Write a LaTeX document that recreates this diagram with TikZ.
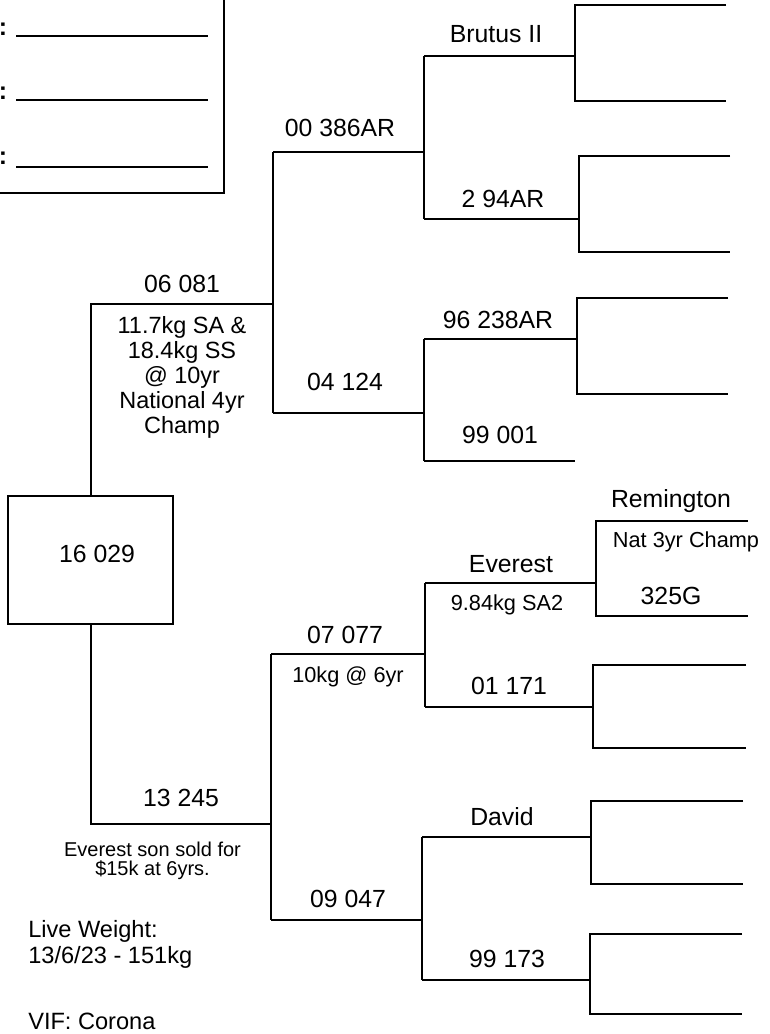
\documentclass[tikz,border=0pt]{standalone}
\usepackage{fontspec}
\setmainfont{Liberation Sans}
\newcommand\fmain{\fontsize{18.6}{20}\selectfont}
\newcommand\fnoteA{\fontsize{17.6}{19}\selectfont}
\newcommand\fnoteB{\fontsize{16.3}{18}\selectfont}
\newcommand\fnoteC{\fontsize{15}{16}\selectfont}
\newcommand\flive{\fontsize{17.7}{19}\selectfont}
\begin{document}
\begin{tikzpicture}[x=0.75pt,y=-0.75pt,
  lbl/.style={font=\fmain, inner sep=0pt, anchor=base},
  noteA/.style={font=\fnoteA, inner sep=0pt, anchor=base},
  noteB/.style={font=\fnoteB, inner sep=0pt, anchor=base},
  noteC/.style={font=\fnoteC, inner sep=0pt, anchor=base},
  live/.style={font=\flive, inner sep=0pt, anchor=base west},
  colon/.style={font=\fmain\bfseries, inner sep=0pt, anchor=base west},
  tree/.style={line width=1.2pt},
  fill line/.style={line width=0.8pt}]
\useasboundingbox (0,0) rectangle (770,1034);

% top-left form box
\draw[line width=2.2pt] (-20,-20) rectangle (224,193);
\node[colon] (c1) at (-1.5,36) {:};
\node[colon] (c2) at (-1.5,100) {:};
\node[colon] (c3) at (-1.5,165) {:};
\coordinate (f1a) at (16,36);  \coordinate (f1b) at (208,36);
\coordinate (f2a) at (16,100); \coordinate (f2b) at (208,100);
\coordinate (f3a) at (16,167); \coordinate (f3b) at (208,167);
\draw[fill line] (f1a) -- (f1b);
\draw[fill line] (f2a) -- (f2b);
\draw[fill line] (f3a) -- (f3b);

% root
\node[draw, line width=1.5pt, minimum width=123.75pt, minimum height=96pt, inner sep=0pt] (rootbox) at (90.5,560) {};
\node[lbl] (root) at (97,562) {16 029};

% sire side
\draw[tree] (rootbox.north -| 91,0) -- (91,304) -- (273,304);
\node[lbl] (s) at (182,292) {06 081};
\node[noteA] (sn1) at (182,333) {11.7kg SA \&};
\node[noteA] (sn2) at (182,358) {18.4kg SS};
\node[noteA] (sn3) at (182,383) {@ 10yr};
\node[noteA] (sn4) at (182,408) {National 4yr};
\node[noteA] (sn5) at (182,433) {Champ};

\draw[tree] (273,152) -- (273,413);
\draw[tree] (273,152) -- (424,152);
\node[lbl] (ss) at (340,137) {00 386AR};
\draw[tree] (273,413) -- (424,413);
\node[lbl] (sd) at (345,390) {04 124};

\draw[tree] (424,56) -- (424,219);
\draw[tree] (424,56) -- (575,56);
\node[lbl] (sss) at (496,43) {Brutus II};
\draw[tree] (424,219) -- (579,219);
\node[lbl] (ssd) at (503,208) {2 94AR};

\draw[tree] (726,5) -- (575,5) -- (575,101) -- (726,101);
\draw[tree] (730,156) -- (579,156) -- (579,252) -- (730,252);

\draw[tree] (424,339) -- (424,461);
\draw[tree] (424,339) -- (577,339);
\node[lbl] (sds) at (498,328) {96 238AR};
\draw[tree] (424,461) -- (575,461);
\node[lbl] (sdd) at (500,443) {99 001};
\draw[tree] (728,298) -- (577,298) -- (577,394) -- (728,394);

% dam side
\draw[tree] (rootbox.south -| 91,0) -- (91,824) -- (271,824);
\node[lbl] (d) at (181,806) {13 245};
\node[noteC] (dn1) at (152.5,856) {Everest son sold for};
\node[noteC] (dn2) at (152.5,875) {\$15k at 6yrs.};

\draw[tree] (271,654) -- (271,920);
\draw[tree] (271,654) -- (424,654);
\node[lbl] (ds) at (345,643) {07 077};
\node[noteB] (dsn) at (348,682) {10kg @ 6yr};
\draw[tree] (271,920) -- (422,920);
\node[lbl] (dd) at (348,907) {09 047};

\draw[tree] (425,583) -- (425,707);
\draw[tree] (425,583) -- (596,583);
\node[lbl] (dss) at (511,572) {Everest};
\node[noteB] (dssn) at (507,610) {9.84kg SA2};
\draw[tree] (425,707) -- (593,707);
\node[lbl] (dsd) at (509,694) {01 171};

\draw[tree] (748,521) -- (596,521) -- (596,616) -- (748,616);
\node[lbl] (dsss) at (671,507) {Remington};
\node[noteB] (dsssn) at (686,547) {Nat 3yr Champ};
\node[lbl] (dssd) at (671,604) {325G};
\draw[tree] (746,665) -- (593,665) -- (593,748) -- (746,748);

\draw[tree] (422,837) -- (422,980);
\draw[tree] (422,837) -- (591,837);
\node[lbl] (dds) at (502,825) {David};
\draw[tree] (422,980) -- (590,980);
\node[lbl] (ddd) at (507,967) {99 173};
\draw[tree] (743,801) -- (591,801) -- (591,884) -- (743,884);
\draw[tree] (742,934) -- (590,934) -- (590,1014) -- (742,1014);

% notes
\node[live] (lw1) at (28,937) {Live Weight:};
\node[live] (lw2) at (28,963) {13/6/23 - 151kg};
\node[live] (vif) at (28,1029) {VIF: Corona};
\end{tikzpicture}
\end{document}
